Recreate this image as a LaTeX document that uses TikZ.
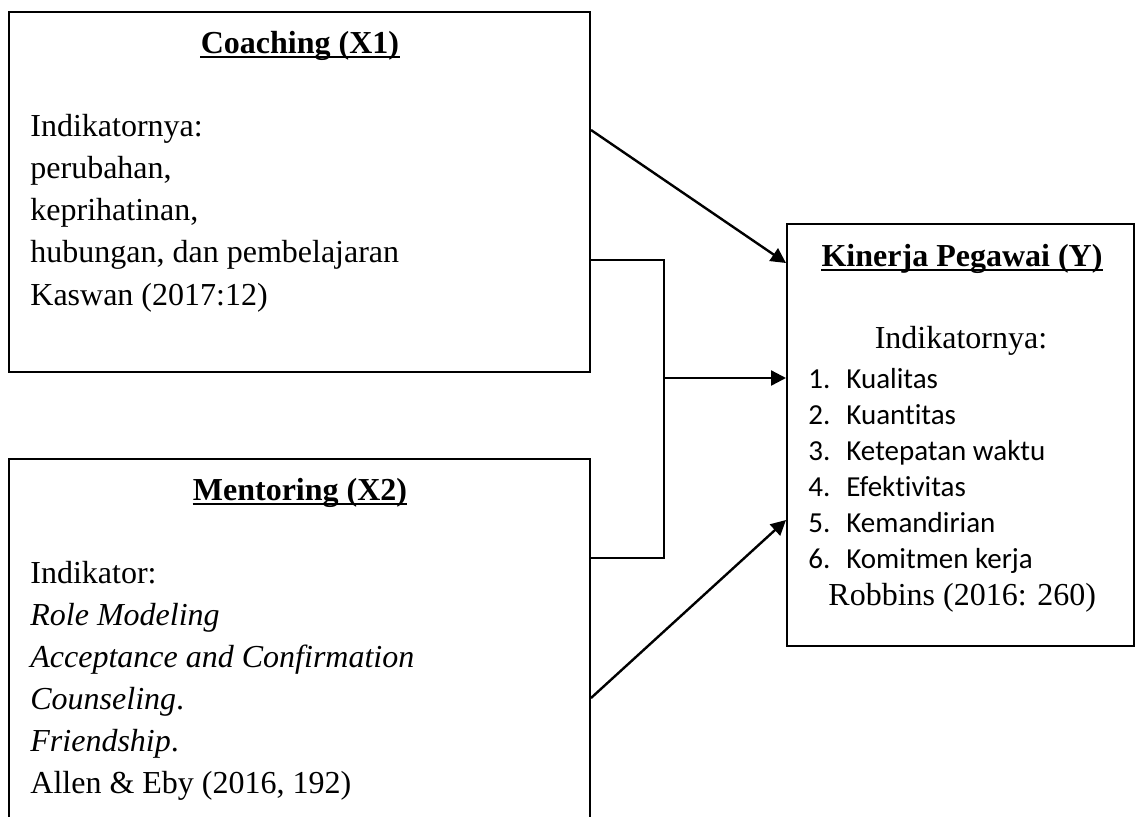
\documentclass[tikz,border=0pt]{standalone}
\usepackage{fontspec}
\setmainfont{Liberation Serif}
\newfontfamily\calibri[Ligatures=NoCommon]{Carlito}
\usetikzlibrary{arrows.meta}
\tikzset{>={Triangle[length=7.5pt,width=7.5pt]}}
\tikzset{
    box/.style={draw, line width=1pt, rectangle, inner sep=0pt},
    title/.style={font=\fontsize{16}{19}\selectfont\bfseries, inner sep=0pt},
    body/.style={font=\fontsize{16}{21}\selectfont, inner sep=0pt},
    item/.style={font=\calibri\fontsize{14.5}{18}\selectfont, inner sep=0pt, anchor=base west},
    conn/.style={line width=1.2pt},
    ulline/.style={line width=1.4pt},
}

\begin{document}
\begin{tikzpicture}[x=0.5pt, y=-0.5pt]
    \clip (0, 0) rectangle (1136, 816);

    % boxes
    \node[box, minimum width=290.5pt, minimum height=180pt] (coach) at (299.5, 192) {};
    \node[box, minimum width=290.5pt, minimum height=190.5pt] (mentor) at (299.5, 649.5) {};
    \node[box, minimum width=173.5pt, minimum height=211pt] (kinerja) at (960.5, 435) {};

    % Coaching (X1)
    \node[title, anchor=base] (coachT) at (300, 53) {Coaching (X1)};
    \draw[ulline] ([yshift=-2pt]coachT.base west) -- ([yshift=-2pt]coachT.base east);
    \foreach \t [count=\i] in {Indikatornya:, perubahan{,}, keprihatinan{,}, {hubungan, dan pembelajaran}, Kaswan (2017:12)}
        \node[body, anchor=base west] (c\i) at (30, 136+42.3*\i-42.3) {\t};

    % Mentoring (X2)
    \node[title, anchor=base] (mentorT) at (300, 500) {Mentoring (X2)};
    \draw[ulline] ([yshift=-2pt]mentorT.base west) -- ([yshift=-2pt]mentorT.base east);
    \foreach \t [count=\i] in {Indikator:, \textit{Role Modeling}, \textit{Acceptance and Confirmation}, \textit{Counseling}., \textit{Friendship}., Allen \& Eby (2016{,} 192)}
        \node[body, anchor=base west] (m\i) at (30, 583+42*\i-42) {\t};

    % Kinerja Pegawai (Y)
    \node[title, anchor=base] (kinT) at (962, 266) {Kinerja Pegawai (Y)};
    \draw[ulline] ([yshift=-2pt]kinT.base west) -- ([yshift=-2pt]kinT.base east);
    \node[body, anchor=base] (kinI) at (961, 348) {Indikatornya:};
    \foreach \t [count=\i] in {Kualitas, Kuantitas, Ketepatan waktu, Efektivitas, Kemandirian, Komitmen kerja} {
        \node[item] (n\i) at (808, 388+36*\i-36) {\i.};
        \node[item] (k\i) at (846, 388+36*\i-36) {\t};
    }
    \node[body, anchor=base west] (kinR) at (828, 605) {Robbins (2016: 260)};

    % connectors
    \coordinate (jTop) at (664, 260);
    \coordinate (jMid) at (664, 378);
    \coordinate (jBot) at (664, 558);
    \draw[conn] (coach.east |- jTop) -- (jTop) -- (jBot) -- (mentor.east |- jBot);
    \draw[conn, ->] (jMid) -- (kinerja.west |- jMid);
    \draw[conn, ->] (coach.east |- 0, 130) -- (kinerja.west |- 0, 263);
    \draw[conn, ->] (mentor.east |- 0, 698) -- (kinerja.west |- 0, 520);
\end{tikzpicture}
\end{document}
